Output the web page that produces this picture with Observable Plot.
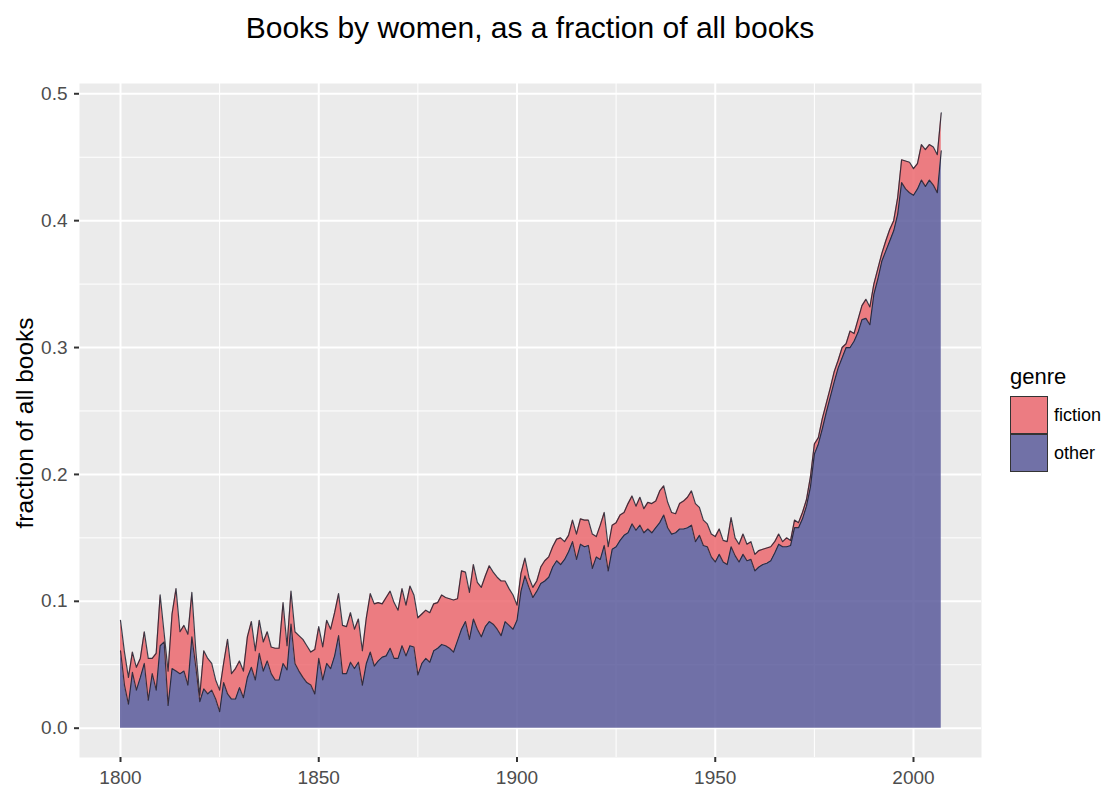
<!DOCTYPE html>
<html>
<head>
<meta charset="utf-8">
<script src="https://cdn.jsdelivr.net/npm/d3@7"></script>
<script src="https://cdn.jsdelivr.net/npm/@observablehq/plot@0.6"></script>
<style>
  body { margin: 0; background: #fff; font-family: "Liberation Sans", Arial, sans-serif; }
  #wrap { position: relative; width: 1109px; height: 788px; overflow: hidden; }
  #title { position: absolute; left: 0; top: 13px; width: 1060px; text-align: center;
           font-size: 30px; line-height: 29px; color: #000; white-space: nowrap; }
  #ytitle { position: absolute; left: -175px; top: 411px; width: 400px; height: 24px;
            text-align: center; font-size: 24.5px; line-height: 24px; color: #000;
            transform: rotate(-90deg); transform-origin: 50% 50%; white-space: nowrap; }
  #chart { position: absolute; left: 0; top: 60px; }
  #legend { position: absolute; left: 1010px; top: 366px; }
  #legend .lt { font-size: 22px; line-height: 22px; color: #000; margin-bottom: 8px; }
  #legend .row { display: flex; align-items: center; height: 38px; }
  #legend .key { width: 38px; height: 38px; border: 1px solid #333; box-sizing: border-box; margin-right: 6px; }
  #legend .lab { font-size: 18px; color: #000; }
</style>
</head>
<body>
<div id="wrap">
  <div id="title">Books by women, as a fraction of all books</div>
  <div id="ytitle">fraction of all books</div>
  <div id="chart"></div>
  <div id="legend"></div>
</div>
<script>
const firstYear = 1800;
const genres = ["fiction", "other"];
const stackOrder = ["other", "fiction"];
const genreColors = ["#EC686F", "#5B5B9B"];
const xTicks = [1800, 1850, 1900, 1950, 2000];
const xMinor = [1825, 1875, 1925, 1975];
const yTicks = [0, 0.1, 0.2, 0.3, 0.4, 0.5];
const yMinor = [0.05, 0.15, 0.25, 0.35, 0.45];

// fraction of all books: "other" (non-fiction) by women, 1800–2007
const other = [
  0.061,0.034,0.019,0.044,0.030,0.040,0.051,0.022,0.043,0.030,
  0.065,0.068,0.018,0.047,0.045,0.043,0.045,0.034,0.072,0.048,
  0.021,0.031,0.027,0.030,0.023,0.013,0.036,0.027,0.023,0.023,
  0.032,0.024,0.040,0.048,0.038,0.059,0.045,0.053,0.043,0.038,
  0.038,0.051,0.046,0.082,0.051,0.045,0.040,0.036,0.034,0.027,
  0.055,0.038,0.051,0.047,0.057,0.073,0.043,0.043,0.052,0.047,
  0.052,0.034,0.051,0.060,0.049,0.053,0.056,0.057,0.063,0.055,
  0.055,0.065,0.057,0.065,0.064,0.042,0.051,0.055,0.052,0.061,
  0.063,0.066,0.065,0.063,0.060,0.069,0.078,0.084,0.070,0.086,
  0.078,0.072,0.080,0.084,0.082,0.078,0.073,0.084,0.081,0.078,
  0.085,0.108,0.120,0.111,0.103,0.108,0.114,0.116,0.119,0.127,
  0.132,0.129,0.133,0.139,0.147,0.133,0.145,0.143,0.144,0.126,
  0.135,0.133,0.144,0.124,0.141,0.143,0.148,0.152,0.154,0.161,
  0.156,0.160,0.154,0.157,0.154,0.158,0.162,0.168,0.158,0.153,
  0.154,0.157,0.157,0.158,0.160,0.147,0.152,0.144,0.143,0.135,
  0.131,0.137,0.131,0.129,0.143,0.136,0.131,0.137,0.132,0.133,
  0.124,0.127,0.129,0.130,0.132,0.138,0.145,0.143,0.143,0.144,
  0.158,0.158,0.165,0.175,0.190,0.216,0.224,0.236,0.249,0.261,
  0.273,0.284,0.292,0.300,0.300,0.305,0.312,0.322,0.323,0.318,
  0.342,0.354,0.368,0.376,0.384,0.392,0.405,0.430,0.425,0.422,
  0.420,0.425,0.432,0.427,0.432,0.428,0.422,0.455
];

// fraction of all books: fiction by women, 1800–2007
const fiction = [
  0.024,0.026,0.021,0.016,0.018,0.015,0.025,0.033,0.012,0.029,
  0.040,0.007,0.027,0.043,0.065,0.033,0.036,0.040,0.035,0.013,
  0.005,0.030,0.028,0.021,0.015,0.017,0.015,0.043,0.020,0.024,
  0.021,0.021,0.032,0.036,0.023,0.026,0.023,0.023,0.021,0.025,
  0.025,0.048,0.019,0.026,0.025,0.028,0.030,0.029,0.026,0.035,
  0.025,0.026,0.034,0.031,0.034,0.033,0.038,0.037,0.039,0.031,
  0.034,0.027,0.036,0.046,0.049,0.046,0.042,0.046,0.045,0.044,
  0.038,0.045,0.040,0.047,0.041,0.045,0.039,0.038,0.039,0.037,
  0.036,0.039,0.038,0.039,0.041,0.033,0.046,0.039,0.037,0.043,
  0.037,0.039,0.040,0.044,0.041,0.041,0.043,0.032,0.029,0.027,
  0.012,0.014,0.014,0.008,0.008,0.008,0.013,0.016,0.016,0.016,
  0.017,0.021,0.014,0.013,0.017,0.020,0.020,0.021,0.020,0.027,
  0.016,0.027,0.026,0.019,0.019,0.019,0.020,0.018,0.023,0.022,
  0.019,0.022,0.019,0.021,0.023,0.021,0.025,0.023,0.020,0.017,
  0.015,0.020,0.022,0.024,0.027,0.030,0.022,0.020,0.018,0.018,
  0.020,0.020,0.017,0.018,0.023,0.014,0.014,0.016,0.013,0.014,
  0.013,0.013,0.012,0.012,0.011,0.009,0.008,0.004,0.007,0.004,
  0.006,0.004,0.005,0.005,0.008,0.008,0.005,0.008,0.007,0.007,
  0.008,0.006,0.008,0.003,0.013,0.006,0.010,0.011,0.015,0.014,
  0.008,0.008,0.006,0.008,0.009,0.008,0.013,0.018,0.022,0.024,
  0.021,0.020,0.028,0.029,0.028,0.030,0.030,0.030
];

const rows = [];
other.forEach((v, i) => {
  rows.push({year: firstYear + i, genre: "other", value: v});
  rows.push({year: firstYear + i, genre: "fiction", value: fiction[i]});
});

const chart = Plot.plot({
  width: 1109,
  height: 728,
  marginTop: 23,
  marginBottom: 31,
  marginLeft: 79,
  marginRight: 128,
  style: {fontFamily: "Liberation Sans, Arial, sans-serif", fontSize: "19px", background: "transparent"},
  x: {domain: [1789.66, 2017.15], axis: null},
  y: {domain: [-0.0231, 0.5081], axis: null},
  color: {domain: genres, range: genreColors},
  marks: [
    Plot.frame({fill: "#EBEBEB", stroke: null}),
    Plot.gridX({ticks: xMinor, stroke: "white", strokeOpacity: 1, strokeWidth: 1}),
    Plot.gridY({ticks: yMinor, stroke: "white", strokeOpacity: 1, strokeWidth: 1}),
    Plot.gridX({ticks: xTicks, stroke: "white", strokeOpacity: 1, strokeWidth: 2}),
    Plot.gridY({ticks: yTicks, stroke: "white", strokeOpacity: 1, strokeWidth: 2}),
    Plot.areaY(rows, Plot.stackY({order: stackOrder}, {x: "year", y: "value", z: "genre", fill: "genre", fillOpacity: 0.85})),
    Plot.lineY(rows, Plot.stackY2({order: stackOrder}, {x: "year", y: "value", z: "genre", stroke: "#1e1e2e", strokeOpacity: 0.85, strokeWidth: 1.2})),
    Plot.axisX({ticks: xTicks, tickFormat: d => String(d), tickSize: 5, tickPadding: 8, strokeWidth: 2,
                stroke: "#333", fill: "#4D4D4D", fontSize: 19, label: null}),
    Plot.axisY({ticks: yTicks, tickFormat: d3.format(".1f"), tickSize: 5, tickPadding: 7, strokeWidth: 2,
                stroke: "#333", fill: "#4D4D4D", fontSize: 19, label: null})
  ]
});
document.getElementById("chart").appendChild(chart);

// legend
const legend = document.getElementById("legend");
const lt = document.createElement("div");
lt.className = "lt";
lt.textContent = "genre";
legend.appendChild(lt);
genres.forEach((g, i) => {
  const row = document.createElement("div");
  row.className = "row";
  const key = document.createElement("div");
  key.className = "key";
  key.style.backgroundColor = d3.interpolateRgb("#EBEBEB", genreColors[i])(0.85);
  const lab = document.createElement("div");
  lab.className = "lab";
  lab.textContent = g;
  row.appendChild(key);
  row.appendChild(lab);
  legend.appendChild(row);
});
</script>
</body>
</html>
